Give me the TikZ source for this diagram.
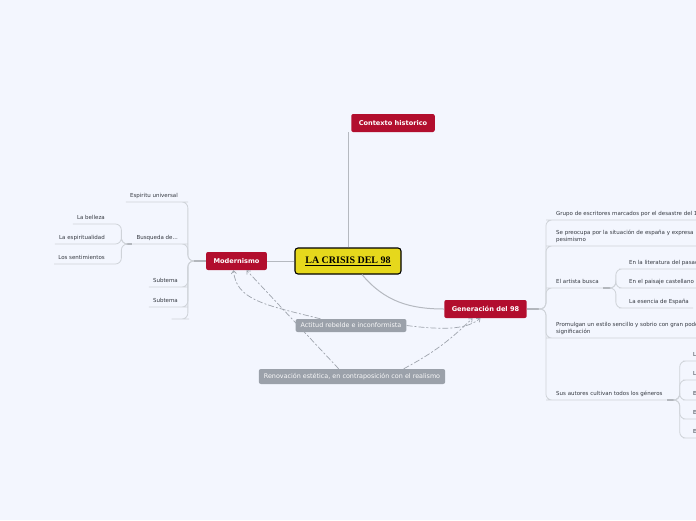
\documentclass[tikz,border=0pt]{standalone}
\usepackage{fontspec}
\setmainfont{DejaVu Sans}
\newfontfamily\titlefont{Liberation Serif}
\usetikzlibrary{positioning, arrows.meta, calc}
\definecolor{canvasBlue}{HTML}{F3F6FE}
\definecolor{crisisRed}{HTML}{B20E2E}
\definecolor{crisisYellow}{HTML}{E6D81C}
\definecolor{relGray}{HTML}{9BA1AA}
\definecolor{trunkGray}{HTML}{B5B9C0}
\definecolor{twigGray}{HTML}{CFD3D9}
\definecolor{stubGray}{HTML}{B3B7BD}
\definecolor{relLine}{HTML}{9EA4AD}
\definecolor{leafText}{HTML}{353941}
\tikzset{
  root/.style={rectangle, rounded corners=3pt, draw=black, line width=1.1pt,
    fill=crisisYellow, minimum width=106pt, minimum height=26pt,
    font=\titlefont\bfseries\fontsize{10}{12}\selectfont},
  topic/.style={rectangle, rounded corners=2pt, fill=crisisRed, text=white,
    font=\fontsize{6.6}{8}\selectfont\bfseries, minimum height=18pt,
    inner xsep=7.5pt, inner ysep=0pt},
  relbox/.style={rectangle, rounded corners=2pt, fill=relGray, text=white!94!relGray,
    font=\fontsize{6.4}{8}\selectfont, inner xsep=5pt, inner ysep=0pt},
  leaf/.style={font=\fontsize{5.5}{7}\selectfont, text=leafText, align=left,
    inner xsep=4pt, inner ysep=2.5pt, text depth=1.5pt},
  trunk/.style={draw=trunkGray, line width=1pt},
  twig/.style={draw=twigGray, line width=0.8pt, rounded corners=6pt},
  stub/.style={draw=stubGray, line width=1.3pt},
  relation/.style={draw=relLine, line width=0.7pt,
    dash pattern=on 6pt off 2pt on 2pt off 2pt,
    -{Straight Barb[length=3pt, width=5pt]}}
}
\begin{document}
\begin{tikzpicture}[x=1pt, y=-1pt]
  \useasboundingbox (0,0) rectangle (696,520);
  \fill[canvasBlue] (0,0) rectangle (696,520);
  % ---- central and main topics ----
  \node[root] (crisis) at (348,261) {\underline{LA CRISIS DEL 98}};
  \node[topic] (contexto) at (393,123) {Contexto historico};
  \node[topic] (modernismo) at (236.5,261) {Modernismo};
  \node[topic] (generacion) at (485.5,309) {Generación del 98};
  \draw[trunk] (crisis.west) -- (modernismo.east);
  \draw[trunk] (crisis.north) -- (crisis.north |- contexto.south);
  \draw[trunk] ([xshift=14pt]crisis.south) to[out=-50, in=180] (generacion.west);
  % ---- floating labels ----
  \node[relbox, minimum height=13pt] (actitud) at (351,325.5) {Actitud rebelde e inconformista};
  \node[relbox, minimum height=15pt] (renovacion) at (352,376.5)
    {Renovación estética, en contraposición con el realismo};
  \draw[relation] ([xshift=25pt]actitud.north west) .. controls (265,305) and (236,300)
    .. ([xshift=-3pt]modernismo.south);
  \draw[relation] (actitud.east) .. controls (450,331) and (468,328)
    .. ([xshift=-5pt]generacion.south);
  \draw[relation] ([xshift=80pt]renovacion.north west) -- ([xshift=10pt]modernismo.south);
  \draw[relation] ([xshift=145pt]renovacion.north west) to[bend right=8]
    ([xshift=-13pt]generacion.south);
  % ---- Modernismo subtopics ----
  \node[leaf, anchor=south east] (espiritu) at (182,202) {Espiritu universal};
  \node[leaf, anchor=south east] (busqueda) at (182,244) {Busqueda de...};
  \node[leaf, anchor=south east] (subtemaA) at (182,287) {Subtema};
  \node[leaf, anchor=south east] (subtemaB) at (182,307) {Subtema};
  \node[leaf, anchor=south east, minimum width=11pt] (subtemaC) at (183,319) {};
  \coordinate (modj) at ($(modernismo.west)+(-12,0)$);
  \draw[stub] (modernismo.west) -- (modj);
  \foreach \c in {espiritu,busqueda,subtemaA,subtemaB,subtemaC}
    \draw[twig] (modj) -- ++(-6,0) |- (\c.south east) -- (\c.south west);
  \node[leaf, anchor=south east] (belleza) at (109,224) {La belleza};
  \node[leaf, anchor=south east] (espiritualidad) at (109,244) {La espiritualidad};
  \node[leaf, anchor=south east] (sentimientos) at (109,264) {Los sentimientos};
  \coordinate (busj) at ($(busqueda.south west)+(-6,0)$);
  \draw[stub] (busqueda.south west) -- (busj);
  \foreach \c in {belleza,espiritualidad,sentimientos}
    \draw[twig] (busj) -- ++(-5,0) |- (\c.south east) -- (\c.south west);
  % ---- Generacion del 98 subtopics ----
  \node[leaf, anchor=south west] (grupo) at (552,220)
    {Grupo de escritores marcados por el desastre del 1898};
  \node[leaf, anchor=south west] (preocupa) at (552,246)
    {Se preocupa por la situación de españa y expresa\\pesimismo};
  \node[leaf, anchor=south west] (artista) at (552,288) {El artista busca};
  \node[leaf, anchor=south west] (promulgan) at (552,338)
    {Promulgan un estilo sencillo y sobrio con gran poder de\\significación};
  \node[leaf, anchor=south west] (autores) at (552,400) {Sus autores cultivan todos los géneros};
  \coordinate (genj) at ($(generacion.east)+(12,0)$);
  \draw[stub] (generacion.east) -- (genj);
  \foreach \c in {grupo,preocupa,artista,promulgan,autores}
    \draw[twig] (genj) -- ++(7,0) |- (\c.south west) -- (\c.south east);
  \node[leaf, anchor=south west] (pasado) at (625,269) {En la literatura del pasado};
  \node[leaf, anchor=south west] (paisaje) at (625,288) {En el paisaje castellano};
  \node[leaf, anchor=south west] (esencia) at (625,308) {La esencia de España};
  \coordinate (artj) at ($(artista.south east)+(8,0)$);
  \draw[stub] (artista.south east) -- (artj);
  \foreach \c in {pasado,paisaje,esencia}
    \draw[twig] (artj) -- ++(5,0) |- (\c.south west) -- (\c.south east);
  \node[leaf, anchor=south west] (novela) at (689,361) {La novela};
  \node[leaf, anchor=south west] (poesia) at (689,380) {La poesía};
  \node[leaf, anchor=south west] (ensayo) at (689,400) {El ensayo};
  \node[leaf, anchor=south west] (teatro) at (689,419) {El teatro};
  \node[leaf, anchor=south west] (periodismo) at (689,438) {El periodismo};
  \coordinate (autj) at ($(autores.south east)+(9,0)$);
  \draw[stub] (autores.south east) -- (autj);
  \foreach \c in {novela,poesia,ensayo,teatro,periodismo}
    \draw[twig] (autj) -- ++(4,0) |- (\c.south west) -- (\c.south east);
\end{tikzpicture}
\end{document}
